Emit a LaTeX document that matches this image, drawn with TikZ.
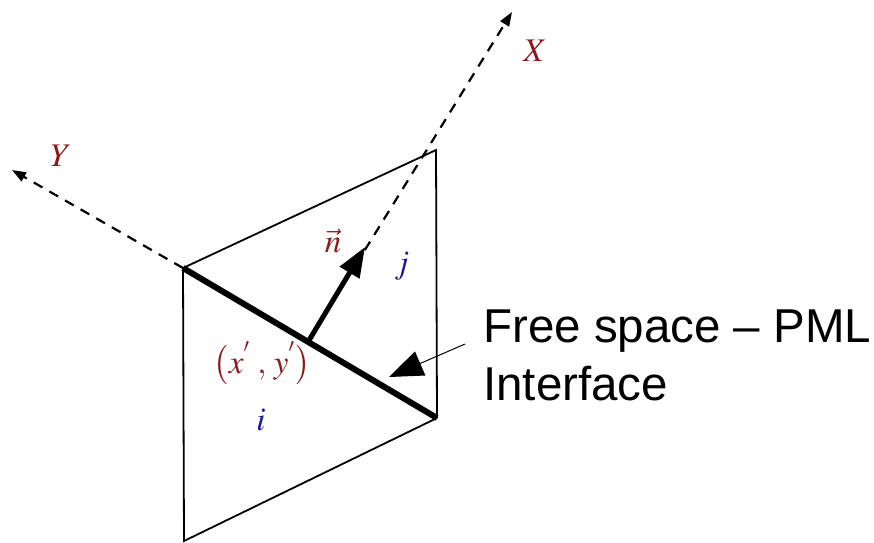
\documentclass[tikz,border=0pt]{standalone}
\usepackage{mathptmx}
\usepackage{fontspec}
\setsansfont{Liberation Sans}
\usetikzlibrary{arrows.meta}
\definecolor{axred}{HTML}{8B1A1A}
\definecolor{axblue}{HTML}{1A1A99}
\tikzset{
  edge/.style={line width=1.8pt, black},
  axis/.style={line width=2.2pt, dash pattern=on 10pt off 8pt, -{Triangle[length=14pt,width=10pt]}},
  thickline/.style={line width=6pt},
  normal/.style={line width=5pt, -{Triangle[length=30pt,width=22pt]}},
  pointer/.style={line width=1pt, -{Triangle[length=34pt,width=26pt]}},
  redlab/.style={text=axred, font=\fontsize{33}{38}\selectfont, inner sep=0pt},
  bluelab/.style={text=axblue, font=\fontsize{33}{38}\selectfont, inner sep=0pt},
  bigtext/.style={font=\sffamily\fontsize{47.5}{58}\selectfont, inner sep=0pt, anchor=base west}
}
\begin{document}
\begin{tikzpicture}[x=1pt,y=-1pt]
\useasboundingbox (0,0) rectangle (874,542);
% corners
\coordinate (A) at (183,268);
\coordinate (B) at (436,150);
\coordinate (C) at (437,418);
\coordinate (D) at (184,541);
\coordinate (F) at (308,342);
\coordinate (Xend) at (512,12);
\coordinate (Yend) at (12,170);
\coordinate (Ntip) at (365,247);
\coordinate (Ptip) at (389,377);
\coordinate (Pstart) at (465,344);
% parallelogram
\draw[edge] (A) -- (B) -- (C);
\draw[edge] (A) -- (D) -- (C);
% axes
\draw[axis] (F) -- (Xend);
\draw[axis] (A) -- (Yend);
% interface
\draw[thickline] (A) -- (C);
% normal
\draw[normal] (F) -- (Ntip);
% pointer
\draw[pointer] (Pstart) -- (Ptip);
% labels
\node[redlab] (lx) at (535,51) {$X$};
\node[redlab] (ly) at (61,156) {$Y$};
\node[redlab] (ln) at (333,241) {$\vec{n}$};
\node[bluelab] (lj) at (402,266) {$j$};
\node[redlab] (lp) at (262,363) {$\bigl(x^{'}\;,\,y^{'}\bigr)$};
\node[bluelab] (li) at (261,420) {$i$};
\node[bigtext] (t1) at (483,342) {Free space -- PML};
\node[bigtext] (t2) at (483,400) {Interface};
\end{tikzpicture}
\end{document}
